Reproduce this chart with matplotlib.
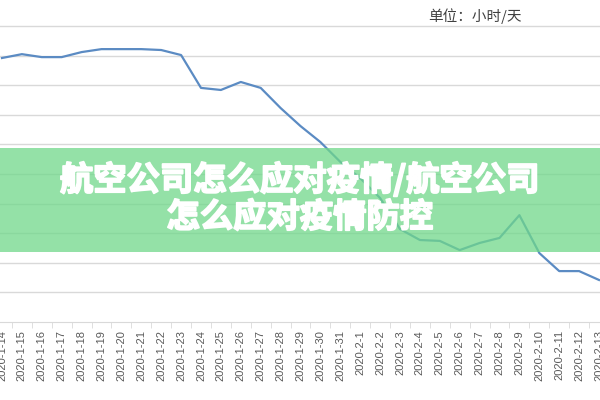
import numpy as np
import matplotlib
matplotlib.use('Agg')
import matplotlib.pyplot as plt
import matplotlib.patheffects as pe
from matplotlib.patches import Rectangle

plt.rcParams['font.family'] = ['Noto Sans CJK SC', 'DejaVu Sans']

# daily hours
dates = ['2020-1-14', '2020-1-15', '2020-1-16', '2020-1-17', '2020-1-18',
         '2020-1-19', '2020-1-20', '2020-1-21', '2020-1-22', '2020-1-23',
         '2020-1-24', '2020-1-25', '2020-1-26', '2020-1-27', '2020-1-28',
         '2020-1-29', '2020-1-30', '2020-1-31', '2020-2-1', '2020-2-2',
         '2020-2-3', '2020-2-4', '2020-2-5', '2020-2-6', '2020-2-7',
         '2020-2-8', '2020-2-9', '2020-2-10', '2020-2-11', '2020-2-12',
         '2020-2-13']
hours = [8.92, 9.05, 8.95, 8.95, 9.12, 9.22, 9.22, 9.22, 9.19, 9.02,
         7.91, 7.84, 8.11, 7.91, 7.23, 6.62, 6.08, 5.41, 4.86, 4.19,
         3.14, 2.77, 2.74, 2.43, 2.67, 2.84, 3.61, 2.33, 1.72, 1.72,
         1.42]

unit_text = '单位：小时/天'
banner_lines = '航空公司怎么应对疫情/航空公司\n怎么应对疫情防控'

fig = plt.figure(figsize=(6, 4), dpi=100)
ax = fig.add_axes([0, 0.195, 1, 0.805])

x = np.arange(len(dates))
ax.plot(x, hours, color='#5b8bc3', lw=1.6, zorder=3)

ax.set_xlim(-0.1, 30.05)
ax.set_ylim(0, 10.88)
ax.set_yticks(np.arange(1, 11))
ax.yaxis.grid(True, color='#d9d9d9', lw=1)
ax.set_axisbelow(True)
ax.tick_params(axis='y', left=False, labelleft=False)

ax.set_xticks(x)
ax.set_xticklabels(dates, rotation=90, fontsize=8, color='#595959',
                   family=['Liberation Sans', 'DejaVu Sans'])
ax.set_xticks(x[:-1] + 0.5, minor=True)
ax.tick_params(axis='x', which='major', length=0, pad=6)
ax.tick_params(axis='x', which='minor', length=4, color='#d9d9d9')

for s in ['left', 'right', 'top']:
    ax.spines[s].set_visible(False)
ax.spines['bottom'].set_color('#d9d9d9')

fig.text(0.792, 0.96, unit_text, ha='center', va='center', fontsize=10.5,
         color='#404040')

# green banner across the middle
fig.patches.append(Rectangle((0, 0.37), 1, 0.26, transform=fig.transFigure,
                             facecolor='#70d88a', alpha=0.75, lw=0, zorder=5))
fig.text(0.5, 0.505, banner_lines, ha='center', va='center', fontsize=24,
         fontweight='bold', color='white', linespacing=1.15, zorder=6,
         path_effects=[pe.withStroke(linewidth=1.3, foreground='white')])

fig.savefig('out.png', dpi=100)
